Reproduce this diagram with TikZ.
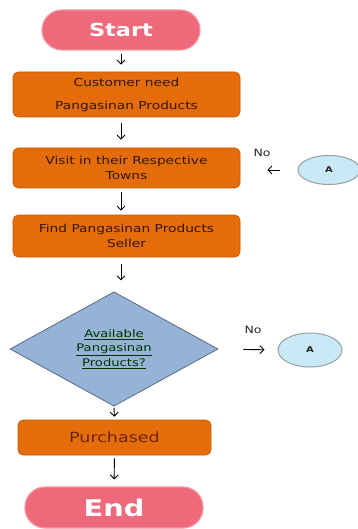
\documentclass[tikz,border=0pt]{standalone}
\usepackage{fontspec}
\setmainfont[FakeStretch=1.25]{DejaVu Sans}
\usetikzlibrary{arrows.meta,shapes.geometric}
\definecolor{TermClr}{RGB}{238,106,122}
\definecolor{StepClr}{RGB}{228,108,10}
\definecolor{DecClr}{RGB}{149,179,215}
\definecolor{LinkClr}{RGB}{201,233,246}
\definecolor{TxtClr}{RGB}{50,24,6}
\definecolor{BuyClr}{RGB}{110,36,12}

\begin{document}
\begin{tikzpicture}[x=1pt,y=-1pt,
  term/.style={rounded corners=20pt,fill=TermClr,draw=TermClr!70!white,line width=1.2pt,text=white},
  stepbox/.style={rounded corners=5pt,fill=StepClr,draw=StepClr!85!black,line width=.6pt,text=TxtClr,
    align=center,minimum width=227pt,font=\fontsize{11}{15}\selectfont},
  decision/.style={diamond,fill=DecClr,draw=DecClr!60!black,line width=.8pt,text=black!80!green,
    align=center,inner sep=0pt,minimum width=208pt,minimum height=102pt,font=\fontsize{10.5}{14.5}\selectfont},
  link/.style={ellipse,fill=LinkClr,draw=LinkClr!55!black!75,line width=1pt,text=black!85,
    minimum width=62pt,minimum height=29pt,font=\bfseries\fontsize{8}{8}\selectfont},
  note/.style={text=black!85,font=\fontsize{10}{10}\selectfont},
  flow/.style={-{Straight Barb[length=4pt,width=8pt]},line width=.9pt}]
\fill[white] (0,0) rectangle (358,529);
\useasboundingbox (0,0) rectangle (358,529);

\node[term,minimum width=158pt,minimum height=40pt,font=\bfseries\fontsize{18}{18}\selectfont] (start) at (121,30) {Start};
\node[stepbox,minimum height=45pt] (need) at (126.5,94.5) {Customer need\\[8pt]Pangasinan Products};
\node[stepbox,minimum height=40pt] (visit) at (126.5,168) {Visit in their Respective\\Towns};
\node[stepbox,minimum height=42pt] (seller) at (126.5,236) {Find Pangasinan Products\\Seller};
\node[decision] (avail) at (114,349) {\underline{Available}\\\underline{Pangasinan}\\\underline{Products?}};
\node[stepbox,minimum width=193pt,minimum height=35pt,text=BuyClr,font=\fontsize{14}{14}\selectfont] (buy) at (114.5,437.5) {Purchased};
\node[term,minimum width=178pt,minimum height=41pt,font=\bfseries\fontsize{23}{23}\selectfont] (end) at (114,507.5) {End};

\node[link] (linkA) at (329,170) {A};
\node[link,minimum width=64pt,minimum height=34pt] (linkB) at (310,350) {A};
\node[note] (noA) at (262,153) {No};
\node[note] (noB) at (253,330) {No};

\draw[flow,shorten <=3pt,shorten >=7pt] (start) -- (start |- need.north);
\draw[flow,shorten <=6pt,shorten >=8pt] (need.south -| start) -- (visit.north -| start);
\draw[flow,shorten <=4pt,shorten >=4pt] (visit.south -| start) -- (seller.north -| start);
\draw[flow,shorten <=7pt,shorten >=11pt] (seller.south -| start) -- (avail.north -| start);
\draw[flow,shorten <=1pt,shorten >=3pt] (avail.south) -- (buy.north);
\draw[flow,shorten <=3pt,shorten >=7pt] (buy.south) -- (end.north);
\draw[flow,shorten <=18pt,shorten >=27pt] (linkA.west) -- (linkA.west -| visit.east);
\draw[flow,shorten <=25pt,shorten >=13pt] (avail.east) -- (linkB.west);

\end{tikzpicture}
\end{document}
